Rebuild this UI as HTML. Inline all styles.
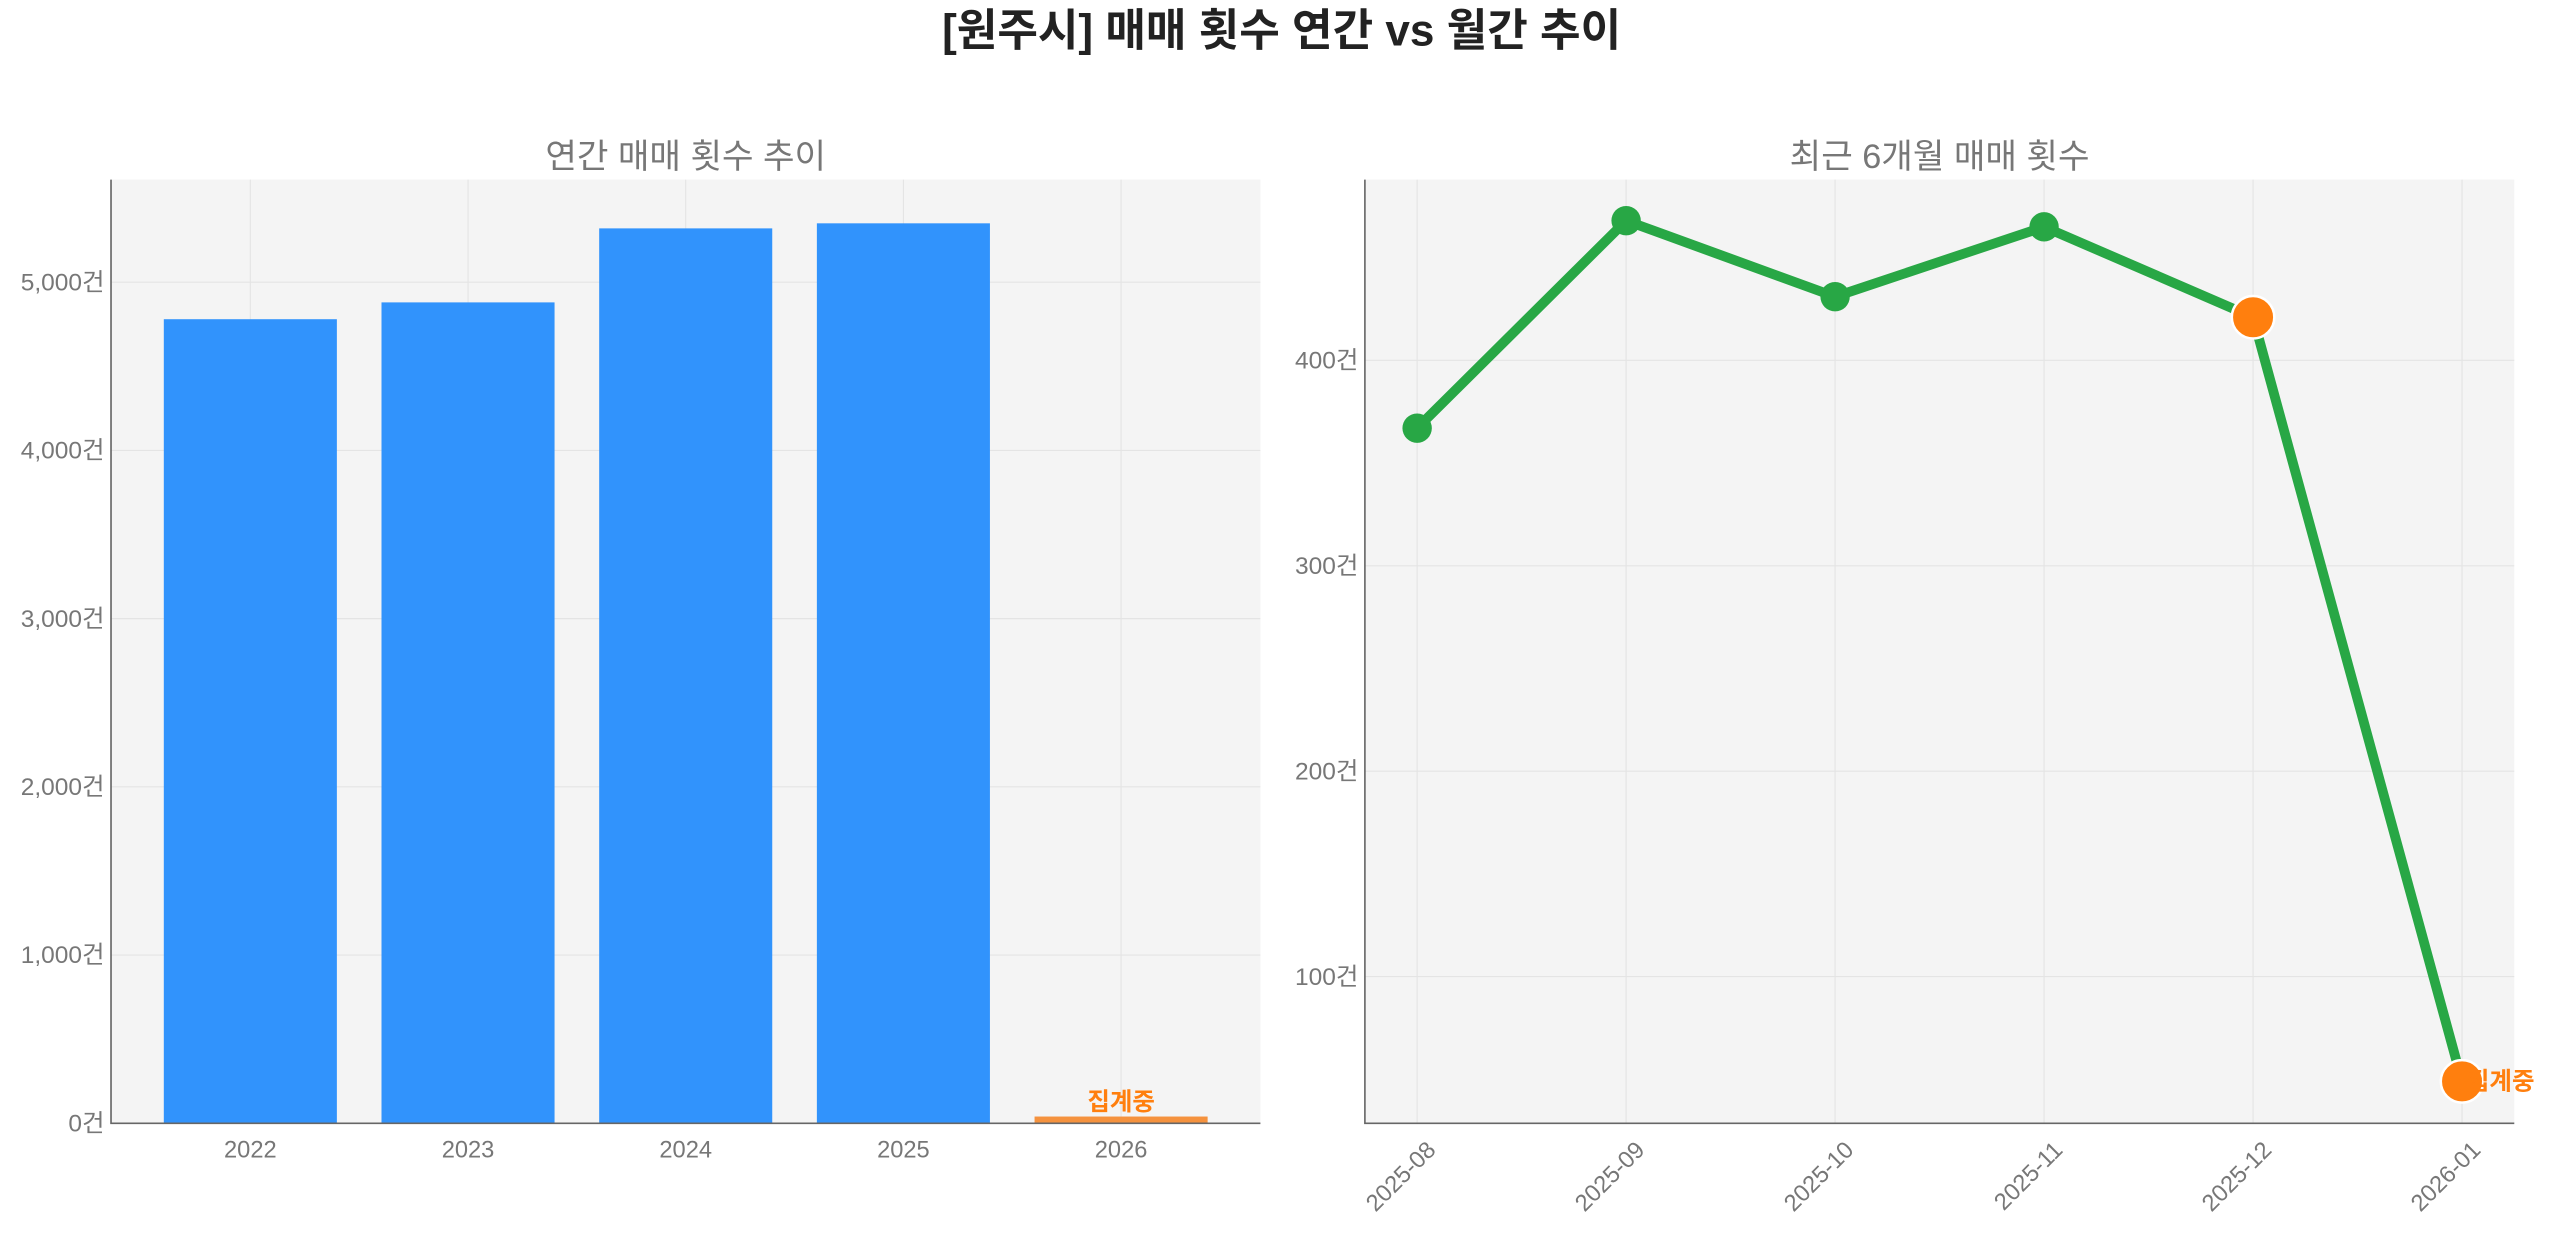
<!DOCTYPE html>
<html><head><meta charset="utf-8">
<style>
html,body{margin:0;padding:0;background:#fff;}
body{width:2560px;height:1234px;overflow:hidden;font-family:"Liberation Sans","Noto Sans CJK KR",sans-serif;}
svg text{font-family:"Liberation Sans","Noto Sans CJK KR",sans-serif;}
</style></head>
<body>
<svg id="chart" width="2560" height="1234" xmlns="http://www.w3.org/2000/svg">
<g transform="scale(1.63265)">
<text x="785" y="28" text-anchor="middle" font-size="27" font-weight="bold" fill="#222">[원주시] 매매 횟수 연간 vs 월간 추이</text>
<g id="left"></g>
<g id="right"></g>
</g>
</svg>
<script>
const yearCats = ['2022','2023','2024','2025','2026'];
const yearVals = [4780, 4880, 5320, 5350, 40];
const yearTicks = [0,1000,2000,3000,4000,5000];
const yearTickLabels = ['0건','1,000건','2,000건','3,000건','4,000건','5,000건'];
const monthCats = ['2025-08','2025-09','2025-10','2025-11','2025-12','2026-01'];
const monthVals = [367, 468, 431, 465, 421, 49];
const monthTicks = [100,200,300,400];
const monthTickLabels = ['100건','200건','300건','400건'];

const NS='http://www.w3.org/2000/svg';
function mk(parent,tag,attrs,text){const e=document.createElementNS(NS,tag);for(const k in attrs)e.setAttribute(k,attrs[k]);if(text!==undefined)e.textContent=text;parent.appendChild(e);return e;}

// Left chart
const L=document.getElementById('left');
const lx0=68,lx1=772,ly0=110,ly1=688;
const lxs=i=>lx0+(i+0.64)*(lx1-lx0)/5.28;
const lys=v=>ly1-v*(ly1-ly0)/5610;
let r=mk(L,'rect',{x:lx0,y:ly0,width:lx1-lx0,height:ly1-ly0,fill:'#f4f4f4'});

yearTicks.forEach((t,i)=>{
 let g=mk(L,'line',{x1:lx0,x2:lx1,y1:lys(t),y2:lys(t),stroke:'#e4e4e4','stroke-width':0.7});
 
 let tx=mk(L,'text',{x:lx0-4,y:lys(t)+5,'text-anchor':'end','font-size':15,fill:'#777'},yearTickLabels[i]);
 
});
yearCats.forEach((c,i)=>{
 let g=mk(L,'line',{x1:lxs(i),x2:lxs(i),y1:ly0,y2:ly1,stroke:'#e4e4e4','stroke-width':0.7});
 
});
yearCats.forEach((c,i)=>{
 const last=i===yearCats.length-1;
 let b=mk(L,'rect',{x:lxs(i)-53,y:lys(yearVals[i]),width:106,height:ly1-lys(yearVals[i]),fill:last?'#f5923e':'#3193fc'});
 
 let tx=mk(L,'text',{x:lxs(i),y:ly1+21,'text-anchor':'middle','font-size':14.5,fill:'#777'},c);
 
 if(last){let a=mk(L,'text',{x:lxs(i),y:lys(yearVals[i])-4,'text-anchor':'middle','font-size':15,'font-weight':'bold',fill:'#ff7f0e'},'집계중');
 }
});
let ax=mk(L,'path',{d:`M${lx0} ${ly0}V${ly1}H${lx1}`,stroke:'#666','stroke-width':1,fill:'none'});

let t1=mk(L,'text',{x:(lx0+lx1)/2,y:103,'text-anchor':'middle','font-size':21,fill:'#777'},'연간 매매 횟수 추이');


// Right chart
const R=document.getElementById('right');
const rx0=836,rx1=1540,ry0=110,ry1=688;
const rxs=i=>rx0+(i+0.25)*(rx1-rx0)/5.5;
const rys=v=>ry1-(v-28.6)*(ry1-ry0)/(488-28.6);
r=mk(R,'rect',{x:rx0,y:ry0,width:rx1-rx0,height:ry1-ry0,fill:'#f4f4f4'});

monthTicks.forEach((t,i)=>{
 let g=mk(R,'line',{x1:rx0,x2:rx1,y1:rys(t),y2:rys(t),stroke:'#e4e4e4','stroke-width':0.7});
 
 let tx=mk(R,'text',{x:rx0-4,y:rys(t)+5,'text-anchor':'end','font-size':15,fill:'#777'},monthTickLabels[i]);
 
});
monthCats.forEach((c,i)=>{
 let g=mk(R,'line',{x1:rxs(i),x2:rxs(i),y1:ry0,y2:ry1,stroke:'#e4e4e4','stroke-width':0.7});
 
 const x=rxs(i),y=ry1+10;
 let tx=mk(R,'text',{x:x+5,y:y,'text-anchor':'end','font-size':14.5,fill:'#777',transform:`rotate(-45 ${x+5} ${y})`,dy:'0.7em'},c);
 
});
let pts=monthVals.map((v,i)=>rxs(i)+','+rys(v)).join(' ');
let ln=mk(R,'polyline',{points:pts,fill:'none',stroke:'#28a745','stroke-width':6,'stroke-linejoin':'round'});

monthVals.forEach((v,i)=>{
 const hl=i>=monthVals.length-2;
 let c=mk(R,'circle',{cx:rxs(i),cy:rys(v),r:hl?13:9,fill:hl?'#ff7f0e':'#28a745',stroke:hl?'#fff':'none','stroke-width':1.5});
 
});
const li=monthVals.length-1;
let pl=mk(R,'text',{x:rxs(li)+3,y:rys(monthVals[li])+5,'font-size':15,'font-weight':'bold',fill:'#ff7f0e'},'집계중');

ax=mk(R,'path',{d:`M${rx0} ${ry0}V${ry1}H${rx1}`,stroke:'#666','stroke-width':1,fill:'none'});

let t2=mk(R,'text',{x:(rx0+rx1)/2,y:103,'text-anchor':'middle','font-size':21,fill:'#777'},'최근 6개월 매매 횟수');

</script>
</body></html>
